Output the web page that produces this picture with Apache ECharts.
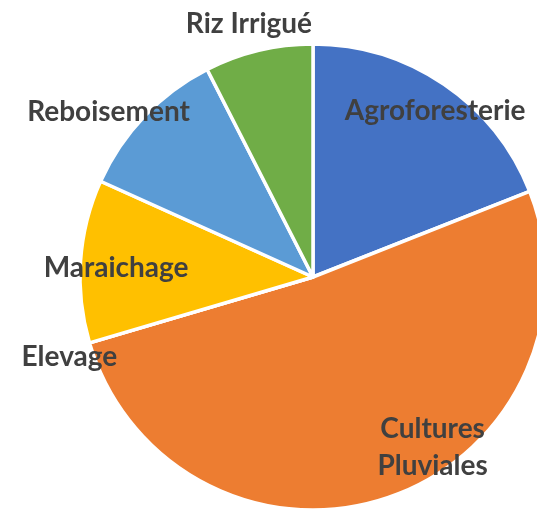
<!DOCTYPE html>
<html>
<head>
<meta charset="utf-8">
<script src="https://cdn.jsdelivr.net/npm/echarts@6/dist/echarts.min.js"></script>
<style>
  html, body { margin: 0; padding: 0; background: #fff; }
  #chart { width: 537px; height: 509px; }
</style>
</head>
<body>
<div id="chart"></div>
<script>
const categories = ['Agroforesterie', 'Cultures Pluviales', 'Elevage', 'Maraichage', 'Reboisement', 'Riz Irrigué'];
const shares = [19.0, 51.4, 0, 11.3, 10.75, 7.5];
const colors = ['#4472C4', '#ED7D31', '#A5A5A5', '#FFC000', '#5B9BD5', '#70AD47'];

const pieCenter = [313, 277];
const pieRadius = 233;
// label spot per slice: [fraction of radius, angle shift from mid-angle in degrees]
const labelSpots = [[0.883, 2.2], [0.895, -16], [1.10, -1.7], [0.846, -1.2], [1.128, -4.7], [1.12, -0.7]];

const total = shares.reduce((a, b) => a + b, 0);
const midAngles = [];
let acc = 0;
shares.forEach(v => {
  midAngles.push((acc + v / 2) / total * 360);
  acc += v;
});

const chart = echarts.init(document.getElementById('chart'));
chart.setOption({
  animation: false,
  color: colors,
  series: [
    {
      type: 'pie',
      center: pieCenter,
      radius: pieRadius,
      startAngle: 90,
      clockwise: true,
      avoidLabelOverlap: false,
      data: categories.map((name, i) => ({ name, value: shares[i] })),
      itemStyle: {
        borderColor: '#fff',
        borderWidth: 3.5
      },
      label: {
        show: true,
        position: 'inside',
        formatter: p => p.name.replace('Cultures ', 'Cultures\n'),
        color: '#404040',
        fontFamily: 'Lato',
        fontWeight: 'bold',
        fontSize: 28,
        lineHeight: 37
      },
      labelLine: { show: false },
      labelLayout: params => {
        const spot = labelSpots[params.dataIndex];
        const ang = (midAngles[params.dataIndex] + spot[1]) * Math.PI / 180;
        const r = pieRadius * spot[0];
        return {
          x: pieCenter[0] + r * Math.sin(ang),
          y: pieCenter[1] - r * Math.cos(ang),
          align: 'center',
          verticalAlign: 'middle'
        };
      }
    }
  ]
});
</script>
</body>
</html>
